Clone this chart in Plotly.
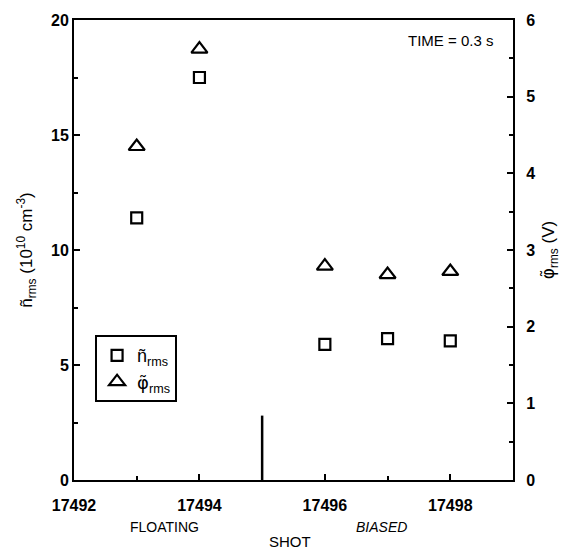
import plotly.graph_objects as go

shots = [17493, 17494, 17496, 17497, 17498]
n_rms = [11.4, 17.5, 5.9, 6.15, 6.05]
phi_rms = [4.35, 5.62, 2.79, 2.68, 2.72]
divider_x = [17495, 17495]
divider_y = [0, 2.8]
x_ticks = [17492, 17494, 17496, 17498]
y_left_ticks = [0, 5, 10, 15, 20]
y_right_ticks = [0, 1, 2, 3, 4, 5, 6]

FONT = "Arial, Liberation Sans, sans-serif"
PHI = "<span style='font-family:DejaVu Sans'>φ̃</span>"

fig = go.Figure()
fig.add_trace(go.Scatter(
    x=shots, y=n_rms, mode="markers", name="ñ<sub>rms</sub>",
    marker=dict(symbol="square-open", size=11, color="black", line=dict(width=2.2)),
    yaxis="y"))
fig.add_trace(go.Scatter(
    x=shots, y=phi_rms, mode="markers", name=PHI + "<sub>rms</sub>",
    marker=dict(symbol="triangle-up-open", size=14, color="black", line=dict(width=2.2)),
    yaxis="y2"))
fig.add_trace(go.Scatter(
    x=divider_x, y=divider_y, mode="lines", showlegend=False,
    line=dict(color="black", width=2.5), yaxis="y", hoverinfo="skip"))

fig.update_layout(
    width=573, height=555,
    margin=dict(l=74, r=60, t=14, b=75),
    paper_bgcolor="white", plot_bgcolor="white",
    font=dict(family=FONT, size=16, color="black"),
    showlegend=True,
    legend=dict(x=0.048, y=0.315, xanchor="left", yanchor="top",
                bordercolor="black", borderwidth=2, bgcolor="white",
                font=dict(size=18), tracegroupgap=0, itemwidth=30),
    xaxis=dict(range=[17492, 17499], tickvals=x_ticks,
               ticktext=["<b>%d</b>" % v for v in x_ticks],
               showgrid=False, zeroline=False, showline=True, linecolor="black",
               linewidth=2, mirror=True, ticks="inside", ticklen=6, tickwidth=2,
               tickcolor="black", ticklabelstandoff=10,
               minor=dict(ticks="inside", dtick=1, tick0=17492, ticklen=4,
                          tickwidth=1.5, tickcolor="black"),
               tickfont=dict(size=16)),
    yaxis=dict(range=[0, 20], tickvals=y_left_ticks,
               ticktext=["<b>%d</b>" % v for v in y_left_ticks],
               showgrid=False, zeroline=False, showline=True, linecolor="black",
               linewidth=2, ticks="inside", ticklen=6, tickwidth=2, tickcolor="black",
               minor=dict(ticks="inside", dtick=2.5, tick0=0, ticklen=4,
                          tickwidth=1.5, tickcolor="black"),
               title=dict(text="ñ<sub>rms</sub> (10<sup>10</sup> cm<sup>-3</sup>)",
                          font=dict(size=17), standoff=14),
               tickfont=dict(size=16)),
    yaxis2=dict(range=[0, 6], tickvals=y_right_ticks, overlaying="y", side="right",
                ticktext=["<b>%d</b>" % v for v in y_right_ticks],
                showgrid=False, zeroline=False, showline=True, linecolor="black",
                linewidth=2, ticks="inside", ticklen=6, tickwidth=2, tickcolor="black",
                ticklabelstandoff=8,
                minor=dict(ticks="inside", dtick=0.5, tick0=0, ticklen=4,
                           tickwidth=1.5, tickcolor="black"),
                title=dict(text=PHI + "<sub>rms</sub> (V)", font=dict(size=17), standoff=8),
                tickfont=dict(size=16)),
)

fig.add_annotation(text="TIME = 0.3 s", xref="paper", yref="paper",
                   x=0.96, y=0.955, xanchor="right", yanchor="middle",
                   showarrow=False, font=dict(size=15))
fig.add_annotation(text="FLOATING", xref="x", yref="paper", x=17493.45, y=-0.103,
                   showarrow=False, font=dict(size=14), yanchor="middle")
fig.add_annotation(text="<i>BIASED</i>", xref="x", yref="paper", x=17496.9, y=-0.103,
                   showarrow=False, font=dict(size=14), yanchor="middle")
fig.add_annotation(text="SHOT", xref="x", yref="paper", x=17495.45, y=-0.133,
                   showarrow=False, font=dict(size=15), yanchor="middle")

fig.write_html("out.html")
